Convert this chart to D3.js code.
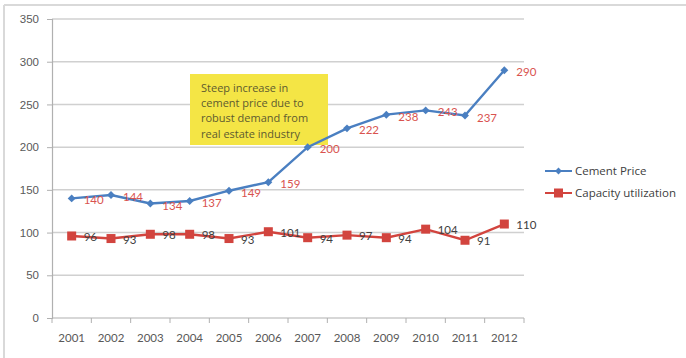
<!DOCTYPE html>
<html>
<head>
<meta charset="utf-8">
<script src="https://cdn.jsdelivr.net/npm/d3@7"></script>
<style>
  html, body { margin: 0; padding: 0; background: #fff; }
  svg { display: block; font-family: Lato, "Open Sans", sans-serif; }
</style>
</head>
<body>
<svg id="chart" width="686" height="358"></svg>
<script>
// Years on the category axis
const years = ["2001","2002","2003","2004","2005","2006","2007","2008","2009","2010","2011","2012"];
// Cement price per year
const cementPrice = [140,144,134,137,149,159,200,222,238,243,237,290];
// Capacity utilization per year
const capacityUtil = [96,93,98,98,93,101,94,97,94,104,91,110];
// Value axis ticks
const yTicks = [0,50,100,150,200,250,300,350];
// Series names
const seriesNames = ["Cement Price", "Capacity utilization"];
// Callout text lines
const noteLines = ["Steep increase in", "cement price due to", "robust demand from", "real estate  industry"];

const svg = d3.select("#chart");
const m = { left: 52, right: 524, top: 19, bottom: 318 };

const blue = "#4a7fc1";
const red = "#d2443e";
const grid = "#d0d0d0";
const axisCol = "#b0b0b0";
const textCol = "#595959";

// outer frame (top and left edges)
svg.append("line").attr("x1", 4).attr("x2", 686).attr("y1", 5).attr("y2", 5)
  .attr("stroke", "#d9d9d9").attr("stroke-width", 2);
svg.append("line").attr("x1", 4).attr("x2", 4).attr("y1", 5).attr("y2", 358)
  .attr("stroke", "#d9d9d9").attr("stroke-width", 2);

const x = d3.scaleBand().domain(years).range([m.left, m.right]);
const cx = d => x(d) + x.bandwidth() / 2;
const y = d3.scaleLinear().domain([0, 350]).range([m.bottom, m.top]);

// horizontal gridlines
svg.append("g").selectAll("line").data(yTicks.filter(t => t > 0)).join("line")
  .attr("x1", m.left).attr("x2", m.right)
  .attr("y1", d => y(d)).attr("y2", d => y(d))
  .attr("stroke", grid).attr("stroke-width", 1.5);

// value axis
const yAxis = svg.append("g").attr("transform", `translate(${m.left},0)`)
  .call(d3.axisLeft(y).tickValues(yTicks).tickSize(5).tickPadding(8));
yAxis.select(".domain").attr("stroke", axisCol).attr("stroke-width", 1.2);
yAxis.selectAll(".tick line").attr("stroke", axisCol);
yAxis.selectAll("text").attr("fill", textCol).attr("font-size", 11.5);

// category axis with ticks on category boundaries
const xAxis = svg.append("g").attr("transform", `translate(0,${m.bottom})`);
xAxis.append("line").attr("x1", m.left).attr("x2", m.right).attr("y1", 0).attr("y2", 0)
  .attr("stroke", axisCol).attr("stroke-width", 1.2);
xAxis.selectAll("line.tk").data(years.concat(["end"])).join("line").attr("class", "tk")
  .attr("x1", (d, i) => m.left + i * x.bandwidth())
  .attr("x2", (d, i) => m.left + i * x.bandwidth())
  .attr("y1", 0).attr("y2", 5).attr("stroke", axisCol);
xAxis.selectAll("text").data(years).join("text")
  .attr("x", d => cx(d)).attr("y", 20).attr("dy", "0.35em")
  .attr("text-anchor", "middle").attr("fill", textCol).attr("font-size", 11.5)
  .text(d => d);

// callout box
const note = svg.append("g");
note.append("rect").attr("x", 190).attr("y", 74).attr("width", 138).attr("height", 71)
  .attr("fill", "#f4e545");
note.selectAll("text").data(noteLines).join("text")
  .attr("x", 201).attr("y", (d, i) => 88 + i * 15.3).attr("dy", "0.35em")
  .attr("fill", "#5e5b30").attr("font-size", 11)
  .attr("font-family", "'Open Sans', sans-serif").text(d => d);

const line = d3.line().x((d, i) => cx(years[i])).y(d => y(d));

// Capacity utilization series
svg.append("path").datum(capacityUtil).attr("d", line)
  .attr("fill", "none").attr("stroke", red).attr("stroke-width", 2.4);
svg.append("g").selectAll("rect").data(capacityUtil).join("rect")
  .attr("x", (d, i) => cx(years[i]) - 4.5).attr("y", d => y(d) - 4.5)
  .attr("width", 9).attr("height", 9).attr("fill", red);

// Cement price series
svg.append("path").datum(cementPrice).attr("d", line)
  .attr("fill", "none").attr("stroke", blue).attr("stroke-width", 2.4);
const diamond = d3.symbol().type(d3.symbolDiamond2).size(40);
svg.append("g").selectAll("path").data(cementPrice).join("path")
  .attr("d", diamond)
  .attr("transform", (d, i) => `translate(${cx(years[i])},${y(d)})`)
  .attr("fill", blue);

// value labels to the right of each point
svg.append("g").selectAll("text").data(cementPrice).join("text")
  .attr("x", (d, i) => cx(years[i]) + 12).attr("y", d => y(d) + 2).attr("dy", "0.35em")
  .attr("fill", "#d9534f").attr("font-size", 11.5).text(d => d);
svg.append("g").selectAll("text").data(capacityUtil).join("text")
  .attr("x", (d, i) => cx(years[i]) + 12).attr("y", d => y(d) + 1).attr("dy", "0.35em")
  .attr("fill", "#404040").attr("font-size", 11.5).text(d => d);

// legend
const legend = svg.append("g");
const legY = [171, 193];
legend.selectAll("line").data(seriesNames).join("line")
  .attr("x1", 545).attr("x2", 572).attr("y1", (d, i) => legY[i]).attr("y2", (d, i) => legY[i])
  .attr("stroke", (d, i) => i === 0 ? blue : red).attr("stroke-width", 2);
legend.append("path").attr("d", d3.symbol().type(d3.symbolDiamond2).size(30))
  .attr("transform", `translate(558.5,${legY[0]})`).attr("fill", blue);
legend.append("rect").attr("x", 554).attr("y", legY[1] - 4.5).attr("width", 9).attr("height", 9)
  .attr("fill", red);
legend.selectAll("text").data(seriesNames).join("text")
  .attr("x", 575).attr("y", (d, i) => legY[i]).attr("dy", "0.35em")
  .attr("fill", "#404040").attr("font-size", 11.5)
  .attr("font-family", "'Open Sans', sans-serif").text(d => d);
</script>
</body>
</html>
